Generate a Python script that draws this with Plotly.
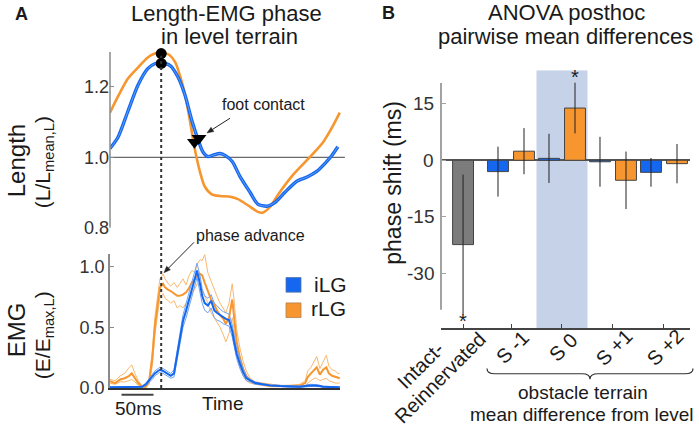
import math
import plotly.graph_objects as go

W, H = 699, 438
FONT = "Liberation Sans, Arial, Helvetica, sans-serif"
TXT = "#1a1a1a"
BLUE = "#1467ee"
BLUE_LIGHT = "#6ea4f7"
ORANGE = "#f7962e"
ORANGE_LIGHT = "#fab86f"
GRAY_BAR = "#7c7c7c"
AXIS_GRAY = "#8a8a8a"

# ---------------- Panel A data: muscle length (L / L_mean,L) over time (ms)
len_time_rlg = [0, 12.5, 28, 44, 59, 70, 78, 91, 102, 109, 117, 125, 130, 136, 141,
                148, 159, 172, 188, 200, 216, 231, 239, 250, 263, 284, 313, 333, 347, 359]
len_rlg = [1.127, 1.173, 1.224, 1.256, 1.284, 1.295, 1.298, 1.293, 1.27, 1.234, 1.18, 1.103,
           1.048, 0.993, 0.956, 0.917, 0.895, 0.89, 0.888, 0.881, 0.863, 0.845, 0.843, 0.859,
           0.895, 0.946, 1.002, 1.043, 1.085, 1.127]
len_time_ilg = [0, 12.5, 28, 44, 59, 70, 80, 94, 106, 117, 128, 138, 145, 153, 161, 172,
                181, 191, 203, 219, 231, 245, 258, 273, 292, 308, 323, 336, 347, 356]
len_ilg = [1.025, 1.057, 1.131, 1.206, 1.252, 1.266, 1.268, 1.261, 1.229, 1.178, 1.104, 1.048,
           1.016, 1.002, 1.006, 1.011, 1.004, 0.988, 0.946, 0.90, 0.867, 0.861, 0.872, 0.90,
           0.932, 0.944, 0.96, 0.983, 1.006, 1.03]
peak_time = [80, 80]
peak_len = [1.295, 1.267]
contact_time = [132, 139]
contact_len = [1.043, 1.054]

# ---------------- Panel A data: EMG (E / E_max,L) over time (ms)
emg_time = [0, 8, 16, 23, 30,
            34, 39, 44, 50, 56,
            61, 66, 70, 75, 78,
            83, 86, 91, 95, 100,
            105, 109, 114, 119, 123,
            128, 133, 136, 141, 144,
            148, 153, 158, 163, 167,
            172, 177, 181, 186, 191,
            194, 198, 203, 208, 213,
            219, 227, 238, 250, 266,
            281, 297, 305, 309, 314,
            319, 323, 328, 333, 338,
            342, 347, 352, 356, 359]
emg_rlg = [0.055, 0.04, 0.07, 0.08, 0.10,
           0.12, 0.08, 0.04, 0.01, 0.01,
           0.05, 0.24, 0.50, 0.72, 0.83,
           0.86, 0.83, 0.81, 0.80, 0.78,
           0.76, 0.76, 0.77, 0.79, 0.82,
           0.87, 0.90, 0.92, 0.94, 0.93,
           0.87, 0.80, 0.73, 0.69, 0.64,
           0.60, 0.57, 0.53, 0.58, 0.73,
           0.60, 0.38, 0.25, 0.16, 0.10,
           0.06, 0.04, 0.03, 0.02, 0.015,
           0.015, 0.02, 0.04, 0.09, 0.12,
           0.15, 0.17, 0.11, 0.15, 0.17,
           0.12, 0.10, 0.09, 0.08, 0.08]
emg_rlg_hi = [0.07, 0.06, 0.10, 0.12, 0.17,
              0.19, 0.12, 0.06, 0.02, 0.02,
              0.07, 0.30, 0.58, 0.80, 0.90,
              0.94, 0.90, 0.86, 0.84, 0.87,
              0.83, 0.86, 0.90, 0.85, 0.92,
              0.97, 0.95, 1.02, 1.06, 1.05,
              1.10, 0.95, 0.88, 0.80, 0.76,
              0.70, 0.66, 0.62, 0.70, 0.86,
              0.72, 0.48, 0.33, 0.22, 0.14,
              0.08, 0.05, 0.04, 0.03, 0.02,
              0.02, 0.03, 0.06, 0.14, 0.17,
              0.22, 0.26, 0.16, 0.22, 0.27,
              0.18, 0.15, 0.14, 0.12, 0.12]
emg_rlg_lo = [0.04, 0.03, 0.05, 0.05, 0.06,
              0.07, 0.05, 0.02, 0.005, 0.005,
              0.03, 0.18, 0.43, 0.65, 0.75,
              0.78, 0.74, 0.72, 0.70, 0.72,
              0.66, 0.68, 0.66, 0.70, 0.72,
              0.78, 0.82, 0.86, 0.84, 0.80,
              0.76, 0.70, 0.62, 0.58, 0.54,
              0.50, 0.44, 0.38, 0.45, 0.58,
              0.48, 0.28, 0.17, 0.10, 0.06,
              0.04, 0.03, 0.02, 0.01, 0.01,
              0.01, 0.01, 0.02, 0.04, 0.06,
              0.08, 0.08, 0.06, 0.07, 0.08,
              0.06, 0.05, 0.04, 0.04, 0.04]
emg_ilg = [0.005, 0.005, 0.005, 0.005, 0.005,
           0.005, 0.005, 0.005, 0.01, 0.03,
           0.06, 0.09, 0.12, 0.14, 0.15,
           0.14, 0.13, 0.11, 0.10, 0.12,
           0.28, 0.42, 0.55, 0.64, 0.72,
           0.82, 0.92, 0.97, 0.85, 0.76,
           0.70, 0.68, 0.72, 0.64, 0.62,
           0.60, 0.58, 0.57, 0.56, 0.47,
           0.38, 0.28, 0.20, 0.13, 0.08,
           0.06, 0.04, 0.03, 0.02, 0.015,
           0.01, 0.01, 0.015, 0.02, 0.02,
           0.02, 0.02, 0.015, 0.01, 0.01,
           0.01, 0.005, 0.005, 0.005, 0.005]
emg_ilg_hi = [0.008, 0.008, 0.008, 0.008, 0.008,
              0.008, 0.008, 0.008, 0.015, 0.04,
              0.075, 0.11, 0.14, 0.16, 0.17,
              0.16, 0.15, 0.13, 0.12, 0.15,
              0.32, 0.47, 0.60, 0.70, 0.78,
              0.88, 0.98, 1.03, 0.92, 0.82,
              0.76, 0.74, 0.77, 0.70, 0.68,
              0.65, 0.63, 0.62, 0.61, 0.52,
              0.43, 0.32, 0.24, 0.16, 0.10,
              0.07, 0.05, 0.035, 0.025, 0.02,
              0.015, 0.015, 0.02, 0.028, 0.03,
              0.03, 0.028, 0.022, 0.015, 0.015,
              0.012, 0.008, 0.008, 0.008, 0.008]
emg_ilg_lo = [0.002, 0.002, 0.002, 0.002, 0.002,
              0.002, 0.002, 0.002, 0.005, 0.02,
              0.045, 0.07, 0.10, 0.12, 0.13,
              0.12, 0.11, 0.09, 0.08, 0.09,
              0.24, 0.37, 0.50, 0.58, 0.66,
              0.76, 0.86, 0.91, 0.78, 0.70,
              0.64, 0.62, 0.66, 0.58, 0.56,
              0.55, 0.53, 0.52, 0.51, 0.42,
              0.33, 0.24, 0.16, 0.10, 0.06,
              0.05, 0.03, 0.025, 0.015, 0.01,
              0.005, 0.005, 0.01, 0.012, 0.012,
              0.012, 0.012, 0.01, 0.005, 0.005,
              0.005, 0.002, 0.002, 0.002, 0.002]

# ---------------- Panel B data: phase shift (ms), posthoc pairwise mean differences
categories = ["Intact-Reinnervated", "S -1", "S 0", "S +1", "S +2"]
intact_diff = [-22.3]
intact_err = [18.5]
ilg_diff = [-3.0, 0.5, -0.4, -3.2]
ilg_err = [6.6, 6.5, 6.6, 3.8]
rlg_diff = [2.4, 13.8, -5.3, -0.9]
rlg_err = [6.1, 6.7, 7.6, 5.2]
y_ticks_b = [-30, -15, 0, 15]

# ---------------- helpers (pixel -> paper)
def px(x):
    return x / W


def py(y):
    return 1 - y / H


# panel B x scale: category position -> pixel
B_X0, B_X1 = 441, 690
B_R0, B_R1 = -0.3725, 4.51
# panel B y scale
B_Y0, B_Y1 = 336, 72
B_V0, B_V1 = -44.44, 23.77


def bx(v):
    return B_X0 + (v - B_R0) / (B_R1 - B_R0) * (B_X1 - B_X0)


def by(v):
    return B_Y0 + (v - B_V0) / (B_V1 - B_V0) * (B_Y1 - B_Y0)


cat_pos = [0.06, 1, 2, 3, 4]
off = 0.255
bw = 0.41

fig = go.Figure()

# Length panel
spl = dict(shape="spline", smoothing=0.7)
fig.add_trace(go.Scatter(x=len_time_rlg, y=len_rlg, mode="lines", line=dict(color=ORANGE, width=2.6, **spl),
                         xaxis="x", yaxis="y", showlegend=False, hoverinfo="skip"))
fig.add_trace(go.Scatter(x=len_time_ilg, y=len_ilg, mode="lines", line=dict(color=BLUE, width=3.4, **spl),
                         xaxis="x", yaxis="y", showlegend=False, hoverinfo="skip"))
fig.add_trace(go.Scatter(x=len_time_ilg, y=len_ilg, mode="lines", line=dict(color=BLUE_LIGHT, width=0.9, **spl),
                         xaxis="x", yaxis="y", showlegend=False, hoverinfo="skip"))
fig.add_trace(go.Scatter(x=peak_time, y=peak_len, mode="markers", marker=dict(color="black", size=11),
                         xaxis="x", yaxis="y", showlegend=False, cliponaxis=False, hoverinfo="skip"))
fig.add_trace(go.Scatter(x=contact_time, y=contact_len, mode="markers", marker=dict(color="black", size=13, symbol="triangle-down"),
                         xaxis="x", yaxis="y", showlegend=False, cliponaxis=False, hoverinfo="skip"))

# EMG panel
for yy, c, w in [(emg_rlg_hi, ORANGE_LIGHT, 1), (emg_rlg_lo, ORANGE_LIGHT, 1), (emg_rlg, ORANGE, 2),
                 (emg_ilg_hi, BLUE_LIGHT, 1), (emg_ilg_lo, BLUE_LIGHT, 1), (emg_ilg, BLUE, 2)]:
    fig.add_trace(go.Scatter(x=emg_time, y=yy, mode="lines", line=dict(color=c, width=w),
                             xaxis="x2", yaxis="y2", showlegend=False, hoverinfo="skip"))

# Panel B bars
fig.add_trace(go.Bar(x=[cat_pos[0]], y=intact_diff, width=bw, marker=dict(color=GRAY_BAR, line=dict(color="#444", width=1)),
                     error_y=dict(type="data", array=intact_err, color="#222", thickness=1, width=0),
                     xaxis="x3", yaxis="y3", showlegend=False))
fig.add_trace(go.Bar(x=[p - off for p in cat_pos[1:]], y=ilg_diff, width=bw, marker=dict(color=BLUE, line=dict(color="#444", width=1)),
                     error_y=dict(type="data", array=ilg_err, color="#222", thickness=1, width=0),
                     xaxis="x3", yaxis="y3", showlegend=False))
fig.add_trace(go.Bar(x=[p + off for p in cat_pos[1:]], y=rlg_diff, width=bw, marker=dict(color=ORANGE, line=dict(color="#444", width=1)),
                     error_y=dict(type="data", array=rlg_err, color="#222", thickness=1, width=0),
                     xaxis="x3", yaxis="y3", showlegend=False))

# ---------------- shapes
shapes = []
# 1.0 reference line
shapes.append(dict(type="line", xref="x", yref="y", x0=0, x1=367, y0=1.0, y1=1.0, line=dict(color="#6a6a6a", width=1.2), layer="below"))
# length y-axis line
shapes.append(dict(type="line", xref="paper", yref="y", x0=px(110), x1=px(110), y0=0.8, y1=1.3, line=dict(color=AXIS_GRAY, width=1.5)))
# dashed peak line through both panels
shapes.append(dict(type="line", xref="x", yref="paper", x0=peak_time[0], x1=peak_time[0], y0=py(397), y1=py(57),
                   line=dict(color="#333", width=2, dash="dot")))
# 50 ms scale bar
shapes.append(dict(type="line", xref="x2", yref="paper", x0=18, x1=68, y0=py(404), y1=py(404), line=dict(color="#444", width=2)))
# legend squares
shapes.append(dict(type="rect", xref="paper", yref="paper", x0=px(286), x1=px(301), y0=py(299), y1=py(284),
                   fillcolor=BLUE, line=dict(color="#5577aa", width=0.8)))
shapes.append(dict(type="rect", xref="paper", yref="paper", x0=px(286), x1=px(301), y0=py(325), y1=py(310),
                   fillcolor=ORANGE, line=dict(color="#b08050", width=0.8)))
# Panel B: shaded S0 region
shapes.append(dict(type="rect", xref="x3", yref="y3", x0=1.5, x1=2.5, y0=-44.44, y1=23.77,
                   fillcolor="#c5d2e8", line=dict(width=0), layer="below"))
# Panel B: y-axis line
shapes.append(dict(type="line", xref="paper", yref="paper", x0=px(441), x1=px(441), y0=py(by(-39.5)), y1=py(by(20.4)),
                   line=dict(color="#a3a3a3", width=2)))
# brace under obstacle categories
x0b, x1b, xcb, r = px(487), px(693), px(590), px(8)
yt, ym, yb = py(377), py(382.5), py(388)
brace = (f"M {x0b},{yt} Q {x0b},{ym} {x0b + r},{ym} L {xcb - r},{ym} Q {xcb},{ym} {xcb},{yb} "
         f"Q {xcb},{ym} {xcb + r},{ym} L {x1b - r},{ym} Q {x1b},{ym} {x1b},{yt}")
shapes.append(dict(type="path", xref="paper", yref="paper", path=brace, line=dict(color="#333", width=1.2)))


# pointer arrows (line + small filled head), pixel coordinates of tail and head
def arrow(tx, ty, hx, hy, hl=6.5, hw=2.6):
    dx, dy = hx - tx, hy - ty
    n = math.hypot(dx, dy)
    ux, uy = dx / n, dy / n
    bxp, byp = hx - hl * ux, hy - hl * uy
    shapes.append(dict(type="line", xref="paper", yref="paper", x0=px(tx), y0=py(ty), x1=px(bxp), y1=py(byp),
                       line=dict(color="#222", width=1)))
    p1 = (bxp - hw * uy, byp + hw * ux)
    p2 = (bxp + hw * uy, byp - hw * ux)
    path = f"M {px(hx)},{py(hy)} L {px(p1[0])},{py(p1[1])} L {px(p2[0])},{py(p2[1])} Z"
    shapes.append(dict(type="path", xref="paper", yref="paper", path=path, fillcolor="#222", line=dict(color="#222", width=0.5)))


arrow(230, 121, 207, 136)
arrow(194, 248, 164, 279)

# ---------------- annotations
ann = []


def text(x, y, s, size, **kw):
    d = dict(x=px(x), y=py(y), xref="paper", yref="paper", text=s, showarrow=False,
             font=dict(size=size, color=kw.pop("color", TXT), family=FONT), xanchor=kw.pop("xanchor", "center"),
             yanchor=kw.pop("yanchor", "middle"))
    d.update(kw)
    ann.append(d)


text(21, 14, "<b>A</b>", 18)
text(388, 13, "<b>B</b>", 18)
text(227, 14, "Length-EMG phase", 22)
text(229, 37, "in level terrain", 22)
text(566, 13, "ANOVA posthoc", 22)
text(565, 37, "pairwise mean differences", 22)

text(16, 165, "Length", 24, textangle=-90)
text(44, 166, "(L/L<sub>mean,L</sub>)", 21, textangle=-90)
text(16, 338, "EMG", 24, textangle=-90)
text(44, 343, "(E/E<sub>max,L</sub>)", 21, textangle=-90)

text(263, 107, "foot contact", 16)
text(250, 241, "phase advance", 16)
text(312, 291, "iLG", 21, xanchor="left")
text(309, 316, "rLG", 21, xanchor="left")
text(138, 418, "50ms", 19)
text(223, 413, "Time", 19)

# Panel B axis title and tick labels
text(393, 187, "phase shift (ms)", 23, textangle=-90)
for v in y_ticks_b:
    text(436, by(v), str(v), 19, xanchor="right", color="#333")

# Panel B category labels (rotated)
text(421, 374, "Intact-", 20, textangle=-45)
text(440, 387, "Reinnervated", 20, textangle=-45)
for p, lab in zip(cat_pos[1:], categories[1:]):
    text(bx(p) + 1.5, 355, lab, 20, textangle=-45)

# significance stars
text(bx(cat_pos[2] + off), 79, "*", 20)
text(bx(cat_pos[0]), 328, "*", 20)

text(583, 402, "obstacle terrain", 19)
text(582, 424, "mean difference from level", 19)

fig.update_layout(
    width=W, height=H, margin=dict(l=0, r=0, t=0, b=0),
    paper_bgcolor="white", plot_bgcolor="rgba(0,0,0,0)",
    font=dict(family=FONT, color=TXT),
    barmode="overlay",
    shapes=shapes, annotations=ann,
    xaxis=dict(domain=[px(110), px(345)], range=[0, 367.2], visible=False, anchor="y"),
    yaxis=dict(domain=[py(233), py(53)], range=[0.8, 1.3], anchor="x", showline=False, showgrid=False, zeroline=False,
               tickvals=[0.8, 1.0, 1.2], ticktext=["0.8", "1.0", "1.2"], ticks="inside", ticklen=4, tickcolor=AXIS_GRAY,
               tickfont=dict(size=18, color="#333")),
    xaxis2=dict(domain=[px(110), px(340)], range=[0, 359.4], anchor="y2", showline=True, linecolor="#333", linewidth=1.5,
                showgrid=False, zeroline=False, showticklabels=False, ticks=""),
    yaxis2=dict(domain=[py(397), py(260)], range=[0, 1.105], anchor="x2", showline=True, linecolor=AXIS_GRAY, linewidth=1.5,
                showgrid=False, zeroline=False, tickvals=[0, 0.5, 1.0], ticktext=["0.0", "0.5", "1.0"], ticks="inside",
                ticklen=4, tickcolor=AXIS_GRAY, tickfont=dict(size=18, color="#333")),
    xaxis3=dict(domain=[px(B_X0), px(B_X1)], range=[B_R0, B_R1], anchor="y3", showline=True, linecolor="#444", linewidth=1.5,
                showgrid=False, zeroline=False, showticklabels=False, ticks="inside", ticklen=5, tickcolor="#444",
                tickvals=cat_pos),
    yaxis3=dict(domain=[py(B_Y0), py(B_Y1)], range=[B_V0, B_V1], anchor="x3", showline=False, showgrid=False,
                zeroline=True, zerolinecolor="#555", zerolinewidth=1.5, tickvals=y_ticks_b,
                showticklabels=False, ticks="inside", ticklen=5, tickcolor="#a3a3a3"),
)

fig.write_html("out.html", config={"displayModeBar": False}, post_script="document.body.style.margin='0';")
